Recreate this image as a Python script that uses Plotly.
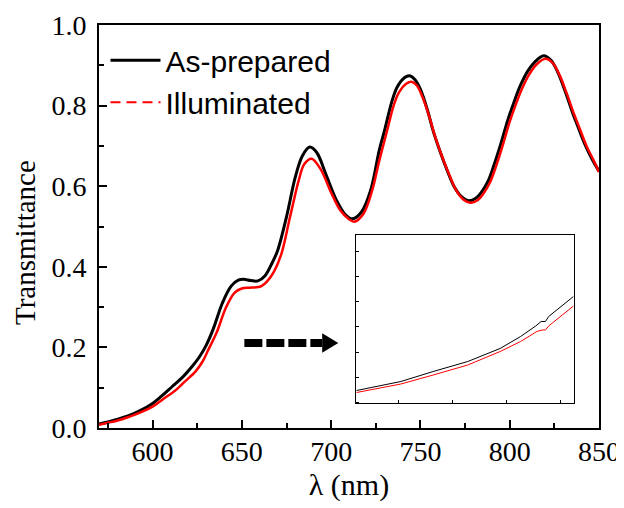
import plotly.graph_objects as go

# ---- main spectra ----
wl_black = [570, 575, 580, 587, 593, 600, 605, 611, 617, 622, 626, 630, 634, 639, 644, 648, 651, 655, 659,
            663, 667, 670, 675, 680, 684, 688, 692, 697, 703, 708, 712, 717, 722, 727, 730, 734, 737, 741,
            744, 747, 750, 754, 757, 761, 765, 769, 773, 777, 781, 784, 788, 791, 795, 799, 803, 806, 810,
            814, 819, 823, 827, 831, 835, 838, 842, 846, 850]
t_black = [0.010, 0.015, 0.021, 0.031, 0.043, 0.061, 0.079, 0.103, 0.127, 0.152, 0.175, 0.205, 0.246, 0.309,
           0.352, 0.367, 0.369, 0.366, 0.365, 0.378, 0.410, 0.440, 0.524, 0.624, 0.676, 0.697, 0.683, 0.630,
           0.565, 0.529, 0.519, 0.536, 0.588, 0.690, 0.740, 0.810, 0.846, 0.869, 0.874, 0.864, 0.840, 0.788,
           0.739, 0.686, 0.639, 0.598, 0.574, 0.564, 0.570, 0.584, 0.614, 0.650, 0.705, 0.765, 0.816, 0.850,
           0.885, 0.908, 0.924, 0.913, 0.882, 0.836, 0.785, 0.750, 0.705, 0.668, 0.637]

wl_red = [570, 575, 580, 587, 593, 600, 606, 613, 618, 624, 628, 631, 636, 641, 646, 650, 654, 658, 661,
          664, 668, 672, 677, 682, 685, 689, 694, 700, 705, 710, 713, 718, 723, 727, 731, 735, 738, 742,
          745, 748, 751, 755, 758, 762, 766, 770, 774, 778, 782, 785, 789, 792, 796, 800, 804, 807, 811,
          815, 820, 824, 828, 832, 836, 839, 843, 847, 850]
t_red = [0.008, 0.013, 0.018, 0.028, 0.038, 0.053, 0.072, 0.094, 0.115, 0.140, 0.165, 0.192, 0.238, 0.298,
         0.336, 0.346, 0.348, 0.349, 0.352, 0.363, 0.388, 0.430, 0.524, 0.617, 0.655, 0.668, 0.643, 0.584,
         0.541, 0.518, 0.512, 0.531, 0.590, 0.664, 0.732, 0.800, 0.833, 0.854, 0.859, 0.850, 0.823, 0.772,
         0.726, 0.675, 0.630, 0.590, 0.567, 0.559, 0.565, 0.580, 0.610, 0.645, 0.700, 0.760, 0.810, 0.843,
         0.878, 0.902, 0.916, 0.906, 0.875, 0.829, 0.779, 0.745, 0.700, 0.664, 0.635]

# ---- inset (zoomed region) ----
inset_wl_black = [571.1, 575.2, 578.2, 581.4, 584.4, 586.3, 587.7, 588.2, 588.6, 588.9, 591.2]
inset_t_black = [0.0073, 0.0091, 0.0111, 0.0131, 0.0157, 0.0181, 0.0202, 0.0211, 0.0211, 0.0221, 0.0261]
inset_wl_red = [571.1, 575.2, 578.2, 581.4, 584.4, 586.3, 587.8, 588.3, 588.6, 588.9, 591.2]
inset_t_red = [0.0069, 0.0086, 0.0104, 0.0124, 0.0151, 0.0171, 0.0191, 0.0194, 0.0194, 0.0202, 0.0242]

# ---- labels ----
series_names = ["As-prepared", "Illuminated"]
x_title = "λ (nm)"
y_title = "Transmittance"
x_ticks = [600, 650, 700, 750, 800, 850]
y_ticks = [0.0, 0.2, 0.4, 0.6, 0.8, 1.0]
arrow_x = [651.4, 695.0, 704.0]
arrow_y = 0.211

SERIF = "Liberation Serif"
SANS = "Liberation Sans"

fig = go.Figure()
fig.add_trace(go.Scatter(x=wl_black, y=t_black, mode="lines", name=series_names[0],
                         line=dict(color="black", width=3, shape="spline", smoothing=1.0)))
fig.add_trace(go.Scatter(x=wl_red, y=t_red, mode="lines", showlegend=False,
                         line=dict(color="#ff0000", width=2.5, shape="spline", smoothing=1.0)))
fig.add_trace(go.Scatter(x=[None], y=[None], mode="lines", name=series_names[1],
                         line=dict(color="#ff0000", width=2, dash="10px,6px")))

fig.add_trace(go.Scatter(x=inset_wl_black, y=inset_t_black, mode="lines", showlegend=False,
                         xaxis="x2", yaxis="y2", line=dict(color="black", width=1)))
fig.add_trace(go.Scatter(x=inset_wl_red, y=inset_t_red, mode="lines", showlegend=False,
                         xaxis="x2", yaxis="y2", line=dict(color="#ff0000", width=1)))

# dashed arrow
fig.add_shape(type="line", xref="x", yref="y", x0=arrow_x[0], x1=arrow_x[1], y0=arrow_y, y1=arrow_y,
              line=dict(color="black", width=8, dash="18px,4px"))
fig.add_shape(type="path", xref="x", yref="y",
              path=f"M {arrow_x[1]},{arrow_y + 0.024} L {arrow_x[2]},{arrow_y} L {arrow_x[1]},{arrow_y - 0.024} Z",
              fillcolor="black", line=dict(color="black", width=0))

# y-axis title placed as annotation (reference title sits slightly below the plot centre)
fig.add_annotation(text=y_title, xref="paper", yref="paper", x=-0.148, y=0.459,
                   xanchor="center", yanchor="middle", textangle=-90, showarrow=False,
                   font=dict(family=SERIF, size=29, color="black"))

# the page body has an 8px margin, so the figure is sized 616x500 to fill the 624x508 window
fig.update_layout(
    template="none",
    width=616, height=500,
    margin=dict(l=91, r=25, t=17, b=80, autoexpand=False),
    plot_bgcolor="white", paper_bgcolor="white",
    showlegend=True,
    legend=dict(x=0.013, y=0.977, xanchor="left", yanchor="top",
                font=dict(family=SANS, size=30, color="black"),
                bgcolor="rgba(0,0,0,0)", itemwidth=50, tracegroupgap=0),
    xaxis=dict(range=[570, 850], tickvals=x_ticks, ticks="inside", ticklen=8, tickwidth=2, tickcolor="black",
               showline=True, linewidth=2, linecolor="black", mirror=True, showgrid=False, zeroline=False,
               automargin=False,
               tickfont=dict(family=SERIF, size=28, color="black"), ticklabelstandoff=-3,
               minor=dict(dtick=25, tick0=575, ticks="inside", ticklen=5, tickwidth=2, tickcolor="black"),
               title=dict(text=x_title, font=dict(family=SERIF, size=30, color="black"), standoff=8)),
    yaxis=dict(range=[0, 1.0], tickvals=y_ticks, tickformat=".1f", ticks="inside", ticklen=8, tickwidth=2,
               tickcolor="black",
               showline=True, linewidth=2, linecolor="black", mirror=True, showgrid=False, zeroline=False,
               automargin=False,
               tickfont=dict(family=SERIF, size=28, color="black"), ticklabelstandoff=5,
               minor=dict(dtick=0.1, ticks="inside", ticklen=5, tickwidth=2, tickcolor="black")),
    xaxis2=dict(domain=[0.513, 0.949], anchor="y2", range=[571, 591.2], dtick=5, tick0=575,
                ticks="inside", ticklen=3, tickwidth=1, tickcolor="black", showticklabels=False,
                automargin=False,
                showline=True, linewidth=1, linecolor="black", mirror=True, showgrid=False, zeroline=False),
    yaxis2=dict(domain=[0.062, 0.479], anchor="x2", range=[0.0048, 0.0384], dtick=0.005, tick0=0,
                ticks="inside", ticklen=3, tickwidth=1, tickcolor="black", showticklabels=False,
                automargin=False,
                showline=True, linewidth=1, linecolor="black", mirror=True, showgrid=False, zeroline=False),
)

fig.write_html("out.html")
